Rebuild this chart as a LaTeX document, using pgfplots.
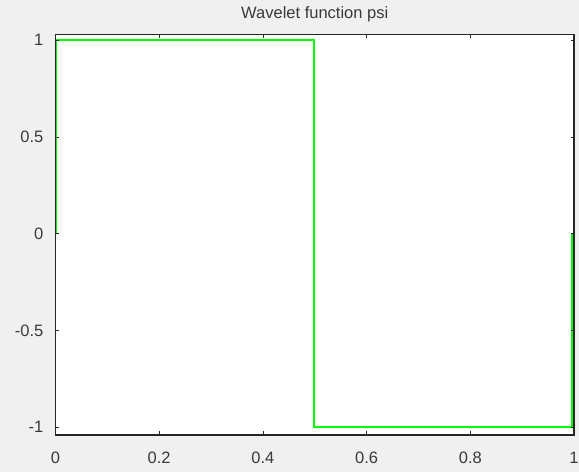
\documentclass[border=0pt]{standalone}
\usepackage{pgfplots}
\pgfplotsset{compat=1.18}
\usepackage{fontspec}
\setmainfont{Liberation Sans}
\definecolor{bgc}{HTML}{F0F0F0}
\definecolor{axc}{HTML}{262626}
\definecolor{txc}{HTML}{3A3A3A}
\definecolor{wgreen}{RGB}{0,255,0}
\begin{document}
\begin{tikzpicture}[x=1bp,y=1bp]
\fill[bgc] (0,0) rectangle (579,472);
\begin{axis}[
  at={(55.5bp,37bp)}, anchor=south west,
  scale only axis, width=518.5bp, height=400.5bp,
  xmin=0, xmax=1, ymin=-1.04, ymax=1.03,
  axis background/.style={fill=white},
  axis line style={axc, line width=1.3bp},
  axis on top,
  tick style={axc, line width=0.8bp},
  major tick length=3.5bp,
  tick align=inside, tick pos=both,
  xtick={0,0.2,0.4,0.6,0.8,1},
  xticklabels={0,0.2,0.4,0.6,0.8,1},
  ytick={-1,-0.5,0,0.5,1},
  yticklabels={-1,-0.5,0,0.5,1},
  ticklabel style={font=\fontsize{16.5bp}{19bp}\selectfont, text=txc},
  xticklabel style={anchor=north, inner sep=0pt, yshift=-17bp},
  yticklabel style={anchor=east, inner sep=0pt, xshift=-12bp},
  title={Wavelet function psi},
  title style={at={(0.5,1)}, anchor=south, inner sep=0pt, yshift=6bp,
    font=\fontsize{16.5bp}{19bp}\selectfont, text=txc},
]
\addplot[wgreen, line width=1.6bp, line join=miter] coordinates {
  (0.002,0) (0.002,1) (0.4985,1) (0.4985,-1) (0.9965,-1) (0.9965,0)
};
\end{axis}
\end{tikzpicture}
\end{document}
